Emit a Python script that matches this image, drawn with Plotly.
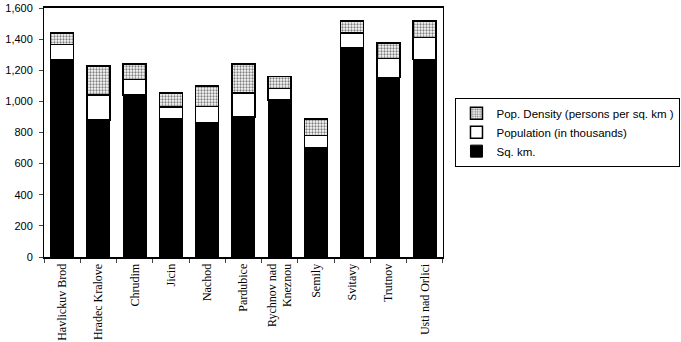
import plotly.graph_objects as go

districts = ["Havlickuv Brod", "Hradec Kralove", "Chrudim", "Jicin", "Nachod", "Pardubice",
             "Rychnov nad<br>Kneznou", "Semily", "Svitavy", "Trutnov", "Usti nad Orlici"]
sq_km = [1270, 880, 1040, 890, 860, 900, 1010, 705, 1345, 1155, 1270]
population = [95, 162, 100, 75, 108, 155, 72, 75, 95, 120, 140]
density = [75, 185, 100, 90, 132, 185, 78, 107, 77, 101, 107]
y_ticks = [0, 200, 400, 600, 800, 1000, 1200, 1400, 1600]

fig = go.Figure()
fig.add_trace(go.Bar(x=districts, y=sq_km, name="Sq. km.",
                     marker=dict(color="black", line=dict(color="black", width=1))))
fig.add_trace(go.Bar(x=districts, y=population, name="Population (in thousands)",
                     marker=dict(color="white", line=dict(color="black", width=1.5))))
fig.add_trace(go.Bar(x=districts, y=density, name="Pop. Density (persons per sq. km )",
                     marker=dict(color="white", line=dict(color="black", width=1.5),
                                 pattern=dict(shape=".", fgcolor="black", bgcolor="white",
                                              size=3, solidity=0.45))))

fig.update_layout(
    width=681, height=342,
    margin=dict(l=44, r=2, t=8, b=85, autoexpand=False),
    barmode="stack", bargap=0.37,
    plot_bgcolor="white", paper_bgcolor="white",
    showlegend=True,
    legend=dict(traceorder="reversed", x=0.648, y=0.64, xanchor="left", yanchor="top",
                bordercolor="black", borderwidth=1,
                font=dict(family="Liberation Sans, Arial", size=11.5, color="black"),
                itemwidth=30),
    font=dict(family="Liberation Sans, Arial", size=11, color="black"),
)
fig.update_yaxes(range=[0, 1600], tickvals=y_ticks, tickformat=",", ticks="outside",
                 ticklen=4, showgrid=False, showline=True, linecolor="black", linewidth=1,
                 mirror=True, zeroline=False, ticklabelstandoff=4, automargin=False,
                 tickfont=dict(family="Liberation Sans, Arial", size=11, color="black"))
fig.update_xaxes(domain=[0, 0.628], tickangle=-90, ticks="outside", tickson="boundaries",
                 ticklen=4, showline=True, linecolor="black", linewidth=2, mirror=True,
                 showgrid=False, automargin=False,
                 tickfont=dict(family="Liberation Serif, Times New Roman", size=12, color="black"))

fig.write_html("out.html")
